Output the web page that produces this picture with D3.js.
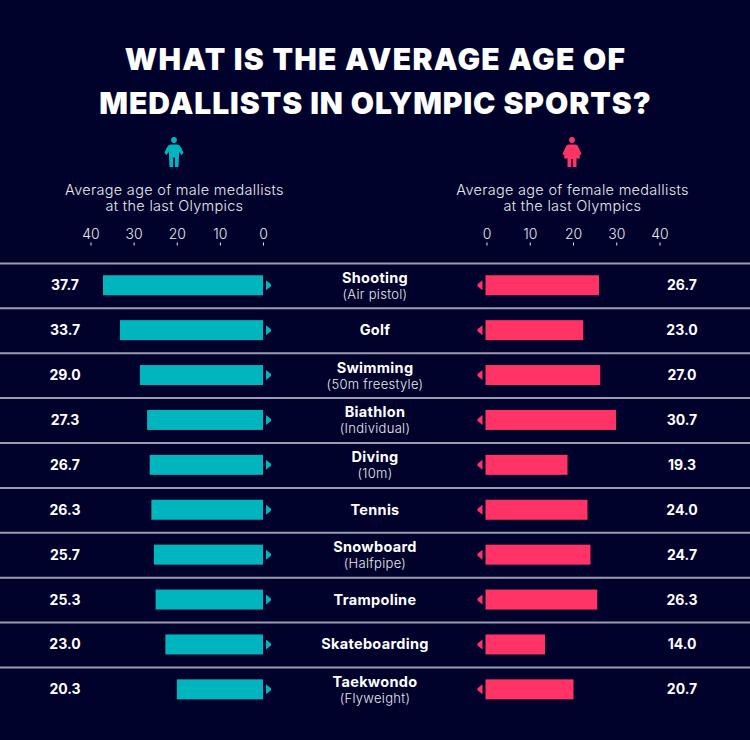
<!DOCTYPE html>
<html>
<head>
<meta charset="utf-8">
<script src="https://cdn.jsdelivr.net/npm/d3@7"></script>
<style>
html, body { margin: 0; padding: 0; background: #00022b; }
svg { display: block; font-family: Inter, "Noto Sans", sans-serif; }
</style>
</head>
<body>
<div id="graph"></div>
<script>
const titleLines = ["WHAT IS THE AVERAGE AGE OF", "MEDALLISTS IN OLYMPIC SPORTS?"];
const sports = ["Shooting", "Golf", "Swimming", "Biathlon", "Diving", "Tennis", "Snowboard", "Trampoline", "Skateboarding", "Taekwondo"];
const details = ["(Air pistol)", "", "(50m freestyle)", "(Individual)", "(10m)", "", "(Halfpipe)", "", "", "(Flyweight)"];
const maleAges = [37.7, 33.7, 29.0, 27.3, 26.7, 26.3, 25.7, 25.3, 23.0, 20.3];
const femaleAges = [26.7, 23.0, 27.0, 30.7, 19.3, 24.0, 24.7, 26.3, 14.0, 20.7];
const axisTicks = [0, 10, 20, 30, 40];
const maleHeader = ["Average age of male medallists", "at the last Olympics"];
const femaleHeader = ["Average age of female medallists", "at the last Olympics"];

const teal = "#00b5bd", pink = "#ff3366", white = "#ffffff", soft = "#e8e9ee";
const width = 750, height = 740;

const svg = d3.select("#graph").append("svg").attr("width", width).attr("height", height);
svg.append("rect").attr("width", width).attr("height", height).attr("fill", "#00022b");

// title
svg.selectAll(".title").data(titleLines).enter().append("text")
    .attr("class", "title")
    .attr("x", 375.5)
    .attr("y", (d, i) => 70 + i * 44)
    .attr("text-anchor", "middle")
    .attr("fill", white)
    .attr("font-size", 30)
    .attr("font-weight", 900)
    .attr("letter-spacing", (d, i) => i == 0 ? 1.3 : 0.95)
    .text(d => d);

// axis scales and the (slightly shorter) bar scales used in the original
const xMaleAxis = d3.scaleLinear().domain([0, 40]).range([263, 90.5]);
const xFemaleAxis = d3.scaleLinear().domain([0, 40]).range([486.5, 659.5]);
const xMale = d3.scaleLinear().domain([0, 40]).range([263, 93.2]);
const xFemale = d3.scaleLinear().domain([0, 40]).range([485.5, 655.5]);
const y = d3.scaleBand().domain(sports).range([263.4, 712.4]);
const yMid = d => y(d) + y.bandwidth() / 2 - 0.6;

function drawAxis(scale) {
    const g = svg.append("g")
        .attr("transform", "translate(0,245.5)")
        .call(d3.axisTop(scale).tickValues(axisTicks).tickSize(3).tickPadding(4));
    g.select(".domain").remove();
    g.selectAll("line").attr("stroke", soft);
    g.selectAll("text").attr("fill", soft).attr("font-size", 14).attr("font-family", "Inter, sans-serif").attr("font-weight", 300);
}
drawAxis(xMaleAxis);
drawAxis(xFemaleAxis);

// column headers
function drawHeader(lines, cx) {
    svg.selectAll(null).data(lines).enter().append("text")
        .attr("x", cx)
        .attr("y", (d, i) => 195 + i * 16)
        .attr("text-anchor", "middle")
        .attr("fill", soft)
        .attr("font-size", 14.5)
        .attr("font-weight", 300)
        .attr("letter-spacing", 0.3)
        .text(d => d);
}
drawHeader(maleHeader, 174.5);
drawHeader(femaleHeader, 572.5);

// person icons
const maleIcon = svg.append("g").attr("transform", "translate(174,137)").attr("fill", teal);
maleIcon.append("circle").attr("cx", 0).attr("cy", 3).attr("r", 2.9);
maleIcon.append("path").attr("d", "M-3 7.5 H3 C6 7.5 7.5 11 9.5 16 L7.5 18 L5 14.5 V20 L4.5 30 H0.9 V20.5 H-0.9 V30 H-4.5 L-5 20 V14.5 L-7.5 18 L-9.5 16 C-7.5 11 -6 7.5 -3 7.5 Z");
const femaleIcon = svg.append("g").attr("transform", "translate(572,137)").attr("fill", pink);
femaleIcon.append("circle").attr("cx", 0).attr("cy", 3).attr("r", 2.9);
femaleIcon.append("path").attr("d", "M-3 7.5 H3 C5.5 7.5 6 9 7 11.5 L9.5 17 L7.5 18.5 L8 21.5 H4.5 V30 H0.8 V22 H-0.8 V30 H-4.5 V21.5 H-8 L-7.5 18.5 L-9.5 17 L-7 11.5 C-6 9 -5.5 7.5 -3 7.5 Z");

// row separators
svg.selectAll(".sep").data(sports).enter().append("line")
    .attr("class", "sep")
    .attr("x1", 0).attr("x2", width)
    .attr("y1", d => y(d)).attr("y2", d => y(d))
    .attr("stroke", "#9c9cb0").attr("stroke-width", 2);

// bars
svg.selectAll(".male").data(sports).enter().append("rect")
    .attr("class", "male")
    .attr("x", (d, i) => xMale(maleAges[i]))
    .attr("y", d => yMid(d) - 10)
    .attr("width", (d, i) => xMale(0) - xMale(maleAges[i]))
    .attr("height", 20)
    .attr("fill", teal);
svg.selectAll(".female").data(sports).enter().append("rect")
    .attr("class", "female")
    .attr("x", xFemale(0))
    .attr("y", d => yMid(d) - 10)
    .attr("width", (d, i) => xFemale(femaleAges[i]) - xFemale(0))
    .attr("height", 20)
    .attr("fill", pink);

// little pointers at the zero line
svg.selectAll(".mArrow").data(sports).enter().append("path")
    .attr("class", "mArrow")
    .attr("transform", d => `translate(${xMale(0) + 3},${yMid(d)})`)
    .attr("d", "M0 -5 L5 -1 V1 L0 5 Z")
    .attr("fill", teal);
svg.selectAll(".fArrow").data(sports).enter().append("path")
    .attr("class", "fArrow")
    .attr("transform", d => `translate(${xFemale(0) - 3},${yMid(d)})`)
    .attr("d", "M0 -5 L-5 -1 V1 L0 5 Z")
    .attr("fill", pink);

// values
svg.selectAll(".mVal").data(sports).enter().append("text")
    .attr("class", "mVal")
    .attr("x", 65)
    .attr("y", yMid)
    .attr("dy", "0.36em")
    .attr("text-anchor", "middle")
    .attr("fill", white).attr("font-size", 14).attr("font-weight", 700)
    .text((d, i) => maleAges[i].toFixed(1));
svg.selectAll(".fVal").data(sports).enter().append("text")
    .attr("class", "fVal")
    .attr("x", 682)
    .attr("y", yMid)
    .attr("dy", "0.36em")
    .attr("text-anchor", "middle")
    .attr("fill", white).attr("font-size", 14).attr("font-weight", 700)
    .text((d, i) => femaleAges[i].toFixed(1));

// sport names
svg.selectAll(".sport").data(sports).enter().append("text")
    .attr("class", "sport")
    .attr("x", 375)
    .attr("y", (d, i) => yMid(d) + (details[i] ? -2.5 : 5))
    .attr("text-anchor", "middle")
    .attr("fill", white).attr("font-size", 14.5).attr("font-weight", 700)
    .attr("letter-spacing", 0.3)
    .text(d => d);
svg.selectAll(".detail").data(sports).enter().append("text")
    .attr("class", "detail")
    .attr("x", 375)
    .attr("y", d => yMid(d) + 13.5)
    .attr("text-anchor", "middle")
    .attr("fill", soft).attr("font-size", 13).attr("font-weight", 300)
    .attr("letter-spacing", 0.3)
    .text((d, i) => details[i]);
</script>
</body>
</html>
